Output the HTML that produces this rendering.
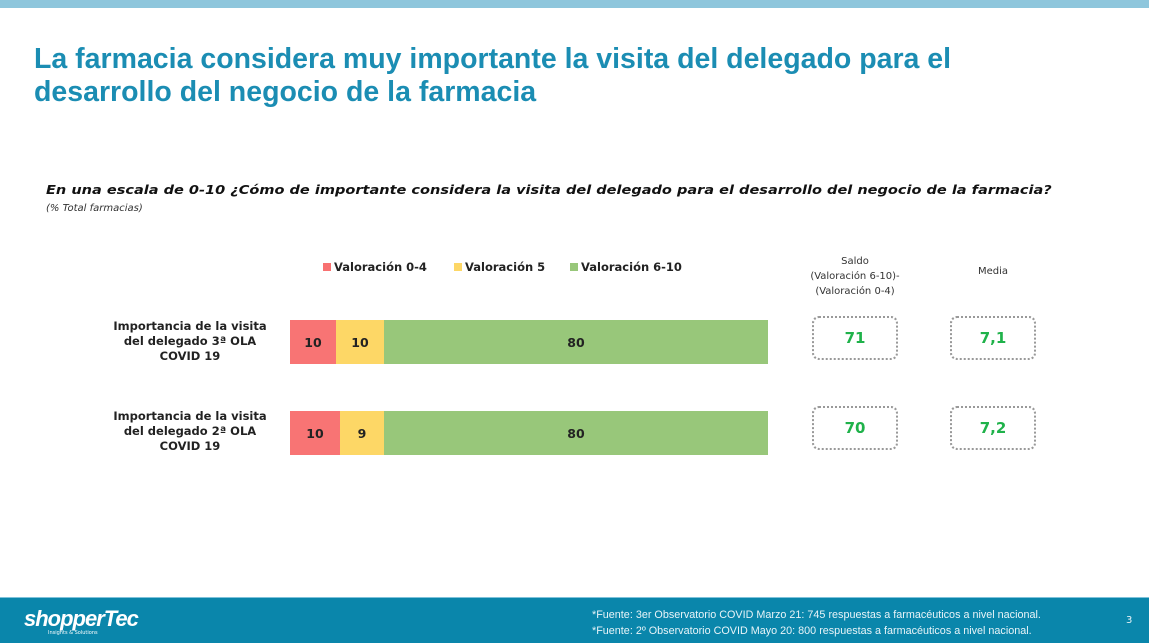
<!DOCTYPE html>
<html><head><meta charset="utf-8"><style>
body{margin:0;width:1149px;height:642px;position:relative;background:#fff;font-family:"DejaVu Sans","Liberation Sans",sans-serif;overflow:hidden}
.a{position:absolute}
.t{left:34px;top:43px;font-family:"Liberation Sans",sans-serif;font-size:28.5px;line-height:33px;color:#1b8db3;font-weight:bold}
.q{left:46px;top:183px;font-size:12.8px;font-weight:bold;font-style:italic;color:#111;white-space:nowrap;transform:scaleX(1.135);transform-origin:0 0}
.s{left:46px;top:203px;font-size:10px;font-style:italic;color:#333}
.lg{top:260px;font-size:11.5px;font-weight:bold;color:#222;white-space:nowrap}
.sq{display:inline-block;width:8px;height:8px;margin-right:3px}
.lab{left:110px;width:160px;text-align:center;font-size:11.5px;font-weight:bold;color:#222;line-height:15px}
.bar{height:44px;font-size:12.5px;font-weight:bold;color:#222;display:flex;align-items:center;justify-content:center}
.box{width:86px;height:44px;border:2px dotted #999;border-radius:7px;box-sizing:border-box;display:flex;align-items:center;justify-content:center;color:#1fb24a;font-weight:bold;font-size:15px}
.h{font-size:10px;color:#333;text-align:center;line-height:15px}
</style></head><body>
<div class="a" style="left:0;top:0;width:1149px;height:8px;background:#8ec6dc"></div>
<div class="a t">La farmacia considera muy importante la visita del delegado para el<br>desarrollo del negocio de la farmacia</div>
<div class="a q">En una escala de 0-10 ¿Cómo de importante considera la visita del delegado para el desarrollo del negocio de la farmacia?</div>
<div class="a s">(% Total farmacias)</div>
<div class="a lg" style="left:323px"><span class="sq" style="background:#f87171"></span>Valoración 0-4</div>
<div class="a lg" style="left:454px"><span class="sq" style="background:#fdd766"></span>Valoración 5</div>
<div class="a lg" style="left:570px"><span class="sq" style="background:#98c77a"></span>Valoración 6-10</div>
<div class="a h" style="left:780px;top:254px;width:150px">Saldo<br>(Valoración 6-10)-<br>(Valoración 0-4)</div>
<div class="a h" style="left:950px;top:264px;width:86px">Media</div>
<div class="a lab" style="top:319px">Importancia de la visita del delegado 3ª OLA COVID 19</div>
<div class="a lab" style="top:409px">Importancia de la visita del delegado 2ª OLA COVID 19</div>
<div class="a bar" style="left:290px;top:320px;width:46px;background:#f87474">10</div>
<div class="a bar" style="left:336px;top:320px;width:48px;background:#fdd766">10</div>
<div class="a bar" style="left:384px;top:320px;width:384px;background:#98c77a">80</div>
<div class="a bar" style="left:290px;top:411px;width:50px;background:#f87474">10</div>
<div class="a bar" style="left:340px;top:411px;width:44px;background:#fdd766">9</div>
<div class="a bar" style="left:384px;top:411px;width:384px;background:#98c77a">80</div>
<div class="a box" style="left:812px;top:316px">71</div>
<div class="a box" style="left:950px;top:316px">7,1</div>
<div class="a box" style="left:812px;top:406px">70</div>
<div class="a box" style="left:950px;top:406px">7,2</div>
<div class="a" style="left:0;top:597px;width:1149px;height:45px;background:#0a86ab;border-top:1px solid #7fc2da"></div>
<div class="a" style="left:24px;top:606px;color:#fff;font-family:'Liberation Sans',sans-serif;font-size:22px;font-weight:bold;font-style:italic;letter-spacing:-1px">shopperTec</div>
<div class="a" style="left:48px;top:630px;color:#fff;font-size:5px">Insights &amp; Solutions</div>
<div class="a" style="left:592px;top:607px;color:#e8f4f8;font-family:'Liberation Sans',sans-serif;font-size:10.8px;line-height:16px;white-space:nowrap">*Fuente: 3er Observatorio COVID Marzo 21: 745 respuestas a farmacéuticos a nivel nacional.<br>*Fuente: 2º Observatorio COVID Mayo 20: 800 respuestas a farmacéuticos a nivel nacional.</div>
<div class="a" style="left:1126px;top:615px;color:#e8f4f8;font-size:10px">3</div>
</body></html>
